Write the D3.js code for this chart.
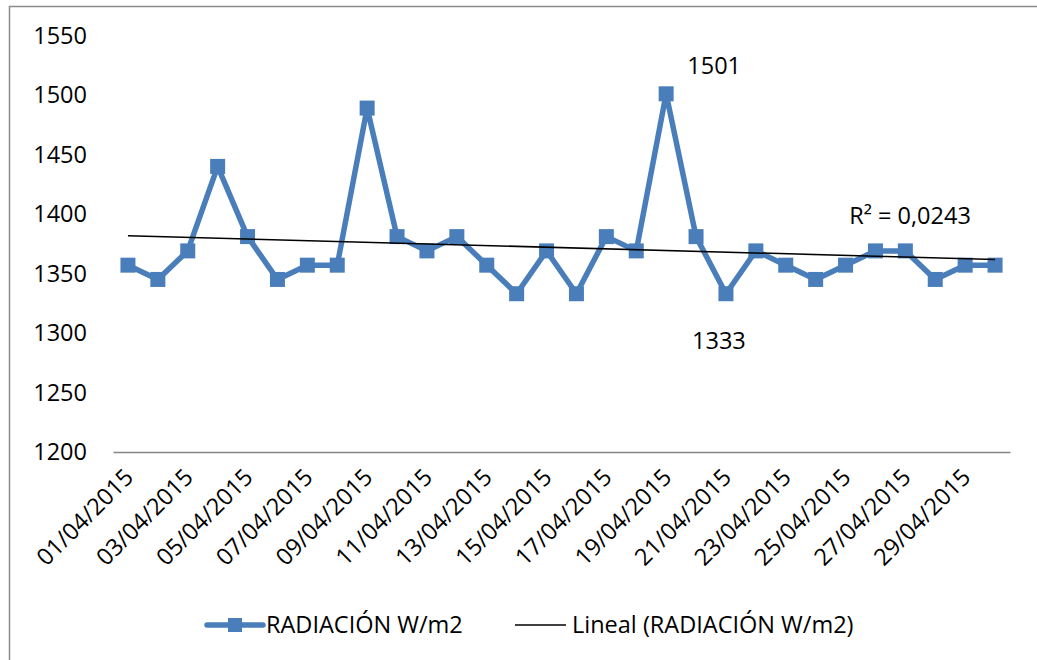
<!DOCTYPE html>
<html>
<head>
<meta charset="utf-8">
<script src="https://cdn.jsdelivr.net/npm/d3@7/dist/d3.min.js"></script>
<style>
  html, body { margin: 0; padding: 0; background: #fff; }
  svg { display: block; }
  text { font-family: "Open Sans", "DejaVu Sans", sans-serif; fill: #000; }
</style>
</head>
<body>
<svg id="chart" width="1037" height="660"></svg>
<script>
const dates = [
  "01/04/2015","02/04/2015","03/04/2015","04/04/2015","05/04/2015","06/04/2015",
  "07/04/2015","08/04/2015","09/04/2015","10/04/2015","11/04/2015","12/04/2015",
  "13/04/2015","14/04/2015","15/04/2015","16/04/2015","17/04/2015","18/04/2015",
  "19/04/2015","20/04/2015","21/04/2015","22/04/2015","23/04/2015","24/04/2015",
  "25/04/2015","26/04/2015","27/04/2015","28/04/2015","29/04/2015","30/04/2015"
];
const radiacion = [
  1357, 1345, 1369, 1440, 1381, 1345, 1357, 1357, 1489, 1381,
  1369, 1381, 1357, 1333, 1369, 1333, 1381, 1369, 1501, 1381,
  1333, 1369, 1357, 1345, 1357, 1369, 1369, 1345, 1357, 1357
];
const yTicks = [1200, 1250, 1300, 1350, 1400, 1450, 1500, 1550];
const seriesName = "RADIACIÓN W/m2";
const trendName = "Lineal (RADIACIÓN W/m2)";
const r2Label = "R² = 0,0243";
const annotated = [{ date: "19/04/2015", text: "1501" }, { date: "21/04/2015", text: "1333" }];

(function () {
const svg = d3.select("#chart");
const blue = "#4A7EBB";
const pLeft = 113, pRight = 1010, pTop = 35.5, pBottom = 452;
const fs = 23.5;

// outer chart border
svg.append("rect").attr("x", 9.5).attr("y", 6.5).attr("width", 1100).attr("height", 700)
  .attr("fill", "none").attr("stroke", "#8c8c8c").attr("stroke-width", 1.5);

const x = d3.scaleBand().domain(dates).range([pLeft, pRight]);
const xc = d => x(d) + x.bandwidth() / 2;
const y = d3.scaleLinear().domain([1200, 1550]).range([pBottom, pTop]);

// y axis (labels only)
const ya = svg.append("g").attr("transform", `translate(${pLeft},0)`)
  .call(d3.axisLeft(y).tickValues(yTicks).tickSize(0).tickPadding(26).tickFormat(d3.format("d")));
ya.select(".domain").remove();
ya.selectAll("text").style("font-size", fs + "px").attr("font-family", null).attr("fill", "#000");

// x axis
const xa = svg.append("g").attr("transform", `translate(0,${pBottom})`)
  .call(d3.axisBottom(x).tickValues(dates.filter((d, i) => i % 2 === 0)).tickSize(0));
xa.select(".domain").attr("stroke", "#868686").attr("stroke-width", 1.5);
xa.selectAll("text")
  .style("font-size", fs + "px").attr("font-family", null).attr("fill", "#000")
  .attr("text-anchor", "end").attr("x", 0).attr("y", 0).attr("dy", "0.35em")
  .attr("transform", "translate(1,21) rotate(-45)");

// series line
const pts = dates.map((d, i) => ({ d, v: radiacion[i] }));
svg.append("path").datum(pts)
  .attr("fill", "none").attr("stroke", blue).attr("stroke-width", 5.5)
  .attr("stroke-linejoin", "round").attr("stroke-linecap", "round")
  .attr("d", d3.line().x(p => xc(p.d)).y(p => y(p.v)));

// markers
const ms = 15;
svg.append("g").selectAll("rect").data(pts).join("rect")
  .attr("x", p => xc(p.d) - ms / 2).attr("y", p => y(p.v) - ms / 2)
  .attr("width", ms).attr("height", ms).attr("fill", blue);

// linear trend (least squares)
const n = radiacion.length;
const idx = d3.range(n);
const mx = d3.mean(idx), my = d3.mean(radiacion);
const slope = d3.sum(idx, i => (i - mx) * (radiacion[i] - my)) / d3.sum(idx, i => (i - mx) ** 2);
const icpt = my - slope * mx;
const trend = [0, n - 1].map(i => ({ d: dates[i], v: icpt + slope * i }));
svg.append("path").datum(trend)
  .attr("fill", "none").attr("stroke", "#000").attr("stroke-width", 1.5)
  .attr("d", d3.line().x(p => xc(p.d)).y(p => y(p.v)));

// R² label near end of trend
svg.append("text").attr("x", xc(dates[n - 1]) - 85).attr("y", y(trend[1].v) - 44)
  .attr("text-anchor", "middle").attr("dy", "0.35em").style("font-size", fs + "px").text(r2Label);

// data labels
const offs = { "1501": [48, -28], "1333": [-7, 47] };
annotated.forEach(a => {
  const v = radiacion[dates.indexOf(a.date)];
  svg.append("text").attr("x", xc(a.date) + offs[a.text][0]).attr("y", y(v) + offs[a.text][1])
    .attr("text-anchor", "middle").attr("dy", "0.35em").style("font-size", fs + "px").text(a.text);
});

// legend
const ly = 625;
const lg = svg.append("g");
lg.append("line").attr("x1", 207).attr("x2", 263).attr("y1", ly).attr("y2", ly)
  .attr("stroke", blue).attr("stroke-width", 5.5).attr("stroke-linecap", "round");
lg.append("rect").attr("x", 235 - 7).attr("y", ly - 7).attr("width", 14).attr("height", 14).attr("fill", blue);
lg.append("text").attr("x", 266).attr("y", ly).attr("dy", "0.35em").style("font-size", fs + "px").text(seriesName);
lg.append("line").attr("x1", 515).attr("x2", 566).attr("y1", ly).attr("y2", ly)
  .attr("stroke", "#000").attr("stroke-width", 1.5);
lg.append("text").attr("x", 572).attr("y", ly).attr("dy", "0.35em").style("font-size", fs + "px").text(trendName);
})();
</script>
</body>
</html>
